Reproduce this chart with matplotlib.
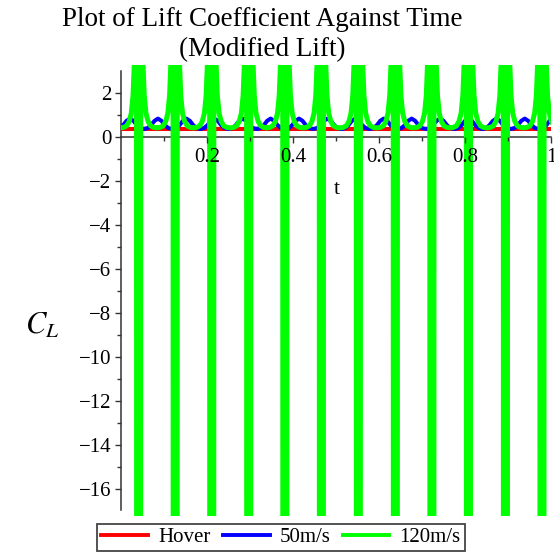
"""Lift coefficient against time for three flight cases (modified lift)."""
import matplotlib
matplotlib.use("Agg")
import matplotlib.pyplot as plt
import numpy as np
from matplotlib.lines import Line2D

plt.rcParams["font.family"] = ["Liberation Serif", "DejaVu Serif"]
plt.rcParams["mathtext.fontset"] = "stix"

# Hover: almost constant lift coefficient
hover_t = [0.0, 1.0]
hover_cl = [0.38, 0.38]

# 50 m/s: crest times and the shape of one cycle about its crest
fwd50_crest_t = [0.021, 0.086, 0.152, 0.217, 0.283, 0.348, 0.414, 0.480,
                 0.545, 0.611, 0.676, 0.742, 0.808, 0.873, 0.939, 1.005]
fwd50_offset = [-0.0328, -0.024, -0.016, -0.008, 0.0, 0.008, 0.016, 0.024, 0.0328]
fwd50_cl = [0.38, 0.42, 0.55, 0.75, 0.85, 0.75, 0.55, 0.42, 0.38]

# 120 m/s: singular times and the curve on one side of each singularity
fwd120_pole_t = [0.041, 0.126, 0.211, 0.297, 0.381, 0.466,
                 0.552, 0.638, 0.723, 0.808, 0.894, 0.979]
fwd120_offset = [0.0045, 0.0052, 0.0058, 0.0066, 0.0080, 0.0100,
                 0.0130, 0.0170, 0.0220, 0.0280, 0.0350, 0.0427]
fwd120_cl = [-40.0, 40.0, 20.0, 12.0, 6.2, 3.4, 1.9, 1.1, 0.72, 0.52, 0.45, 0.43]


def tile_cycles(centres, offsets, values):
    t, v = [], []
    for c in centres:
        t.extend(c + o for o in offsets)
        v.extend(values)
    return np.array(t), np.array(v)


def mirror(offsets, values):
    offs = [-o for o in offsets[::-1]] + list(offsets)
    vals = list(values[::-1]) + list(values)
    return offs, vals


t50, cl50 = tile_cycles(fwd50_crest_t, fwd50_offset, fwd50_cl)
off120, val120 = mirror(fwd120_offset, fwd120_cl)
t120, cl120 = tile_cycles(fwd120_pole_t, off120, val120)

W, H = 554, 554
fig = plt.figure(figsize=(W / 100, H / 100), dpi=100)
ax = fig.add_axes([121 / W, 1 - 515.7 / H, 430 / W, 451 / H])

red, blue, green = "#ff0000", "#0000ff", "#00ff00"
ax.plot(hover_t, hover_cl, color=red, lw=2.9, zorder=3)
ax.plot(t50, cl50, color=blue, lw=2.9, zorder=3)
ax.plot(t120, cl120, color=green, lw=3.6, zorder=3, solid_joinstyle="miter")

ax.set_xlim(0, 1)
ax.set_ylim(-17.2, 3.3)

for side in ("top", "right"):
    ax.spines[side].set_visible(False)
ax.spines["bottom"].set_position(("data", 0))
ax.spines["left"].set_bounds(-16.95, 3.0)
for side in ("bottom", "left"):
    ax.spines[side].set_color("#333333")
    ax.spines[side].set_linewidth(1.1)

ax.set_xticks([0.2, 0.4, 0.6, 0.8, 1.0])
ax.set_xticklabels(["0.2", "0.4", "0.6", "0.8", "1"])
ax.set_xticks(np.arange(0.1, 1.0, 0.2), minor=True)
yt = list(range(2, -17, -2))
ax.set_yticks(yt)
ax.set_yticklabels([str(v).replace("-", "\u2212") for v in yt])
ax.set_yticks(range(1, -17, -2), minor=True)

ax.tick_params(axis="both", which="major", labelsize=15, color="#333333",
               width=1.0)
ax.tick_params(axis="x", which="major", length=4, pad=4)
ax.tick_params(axis="y", which="major", length=4.5, pad=2.5)
ax.tick_params(axis="both", which="minor", length=3, color="#333333", width=1.0)
ax.xaxis.set_zorder(4)
ax.yaxis.set_zorder(4)

fig.text(337 / W, 1 - 189 / H, "t", fontsize=16, ha="center", va="center")
fig.text(42 / W, 1 - 326 / H, r"$C_L$", fontsize=22, ha="center", va="center")

fig.text(262 / W, 1 - 19 / H, "Plot of Lift Coefficient Against Time",
         fontsize=19.5, ha="center", va="center")
fig.text(262 / W, 1 - 50 / H, "(Modified Lift)",
         fontsize=19.5, ha="center", va="center")

handles = [Line2D([], [], color=c, lw=2.8) for c in (red, blue, green)]
leg = fig.legend(handles, ["Hover", "50m/s", "120m/s"], loc="center",
                 bbox_to_anchor=(281 / W, 1 - 537.5 / H), ncol=3,
                 fontsize=15, frameon=True, fancybox=False,
                 edgecolor="#444444", framealpha=1, borderpad=0.2,
                 handlelength=2.25, handletextpad=0.48, columnspacing=0.58,
                 borderaxespad=0)
leg.get_frame().set_linewidth(1.3)

fig.savefig("out.png", dpi=100)
